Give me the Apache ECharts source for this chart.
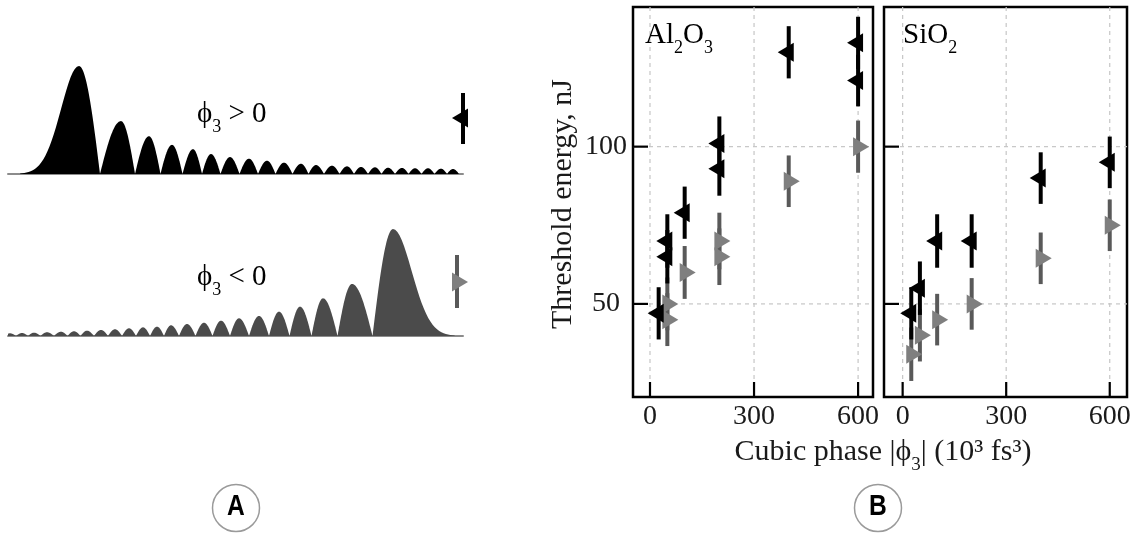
<!DOCTYPE html>
<html><head><meta charset="utf-8">
<script src="https://cdn.jsdelivr.net/npm/echarts@6/dist/echarts.min.js"></script>
<style>html,body{margin:0;padding:0;background:#fff}#c{width:1136px;height:533px}</style>
</head><body><div id="c"></div>
<script>
// ---------- Panel A: pulse lobes (time in arbitrary units, main peak at 0; relative intensity) ----------
const posLobeT = [0, 42, 70, 93, 114, 132, 151, 170, 188, 205, 222, 237, 253, 268, 282, 296, 309, 323, 336, 349, 362, 374];
const posLobeA = [1, 0.49, 0.35, 0.27, 0.23, 0.185, 0.157, 0.142, 0.123, 0.105, 0.095, 0.083, 0.077, 0.071, 0.065, 0.062, 0.058, 0.056, 0.053, 0.053, 0.049, 0.046];
const posTailHW = 21;
const negLobeT = [0, -41, -70, -93, -114, -134, -154, -172, -189, -206, -222, -236, -250, -264, -278, -292, -306, -319, -332, -346, -359, -371, -383];
const negLobeA = [1, 0.486, 0.352, 0.274, 0.227, 0.187, 0.165, 0.143, 0.124, 0.112, 0.1, 0.087, 0.081, 0.072, 0.063, 0.056, 0.05, 0.044, 0.04, 0.035, 0.031, 0.028, 0.025];
const negTailHW = 22;

// ---------- Panel B: threshold energies ----------
const xTicks = [0, 300, 600];
const yTicks = [50, 100];
const alBlackX = [25, 50, 50, 100, 200, 200, 400, 600, 600];
const alBlackY = [47, 70, 65, 79, 101, 93, 130, 133, 121];
const alBlackErr = [8.3, 8.5, 8.5, 8.3, 8.6, 8.6, 8.3, 8.3, 8.2];
const alGreyX = [50, 50, 100, 200, 200, 400, 600];
const alGreyY = [50, 45, 60, 70, 65, 89, 100];
const alGreyErr = [8.4, 8.4, 8.4, 9, 9, 8.2, 8.3];
const siBlackX = [25, 50, 100, 200, 400, 600];
const siBlackY = [47, 55, 70, 70, 90, 95];
const siBlackErr = [8.3, 8.5, 8.5, 8.5, 8.2, 8.2];
const siGreyX = [25, 50, 100, 200, 400, 600];
const siGreyY = [34, 40, 45, 50, 64.5, 75];
const siGreyErr = [8.5, 8.3, 8.2, 8.2, 8.2, 8.2];

const serif = "'Liberation Serif','Times New Roman',serif";
const zip3 = (x, y, e) => x.map((v, i) => [v, y[i], e[i]]);
const zip2 = (x, y) => x.map((v, i) => [v, y[i]]);

function lobePoints(T, A, tailHW, tailDir, i) {
  const n = T.length, p = T[i], a = A[i], N = 28, pts = [];
  if (i === 0) {
    const inner = (T[0] + T[1]) / 2;
    const sig = tailHW / 1.1774, tailEnd = p + tailDir * 3.3 * sig;
    for (let k = 0; k <= N; k++) { const t = tailEnd + (p - tailEnd) * k / N; const d = (t - p) / sig; pts.push([t, a * Math.exp(-0.5 * d * d)]); }
    for (let k = 1; k <= N; k++) { const t = p + (inner - p) * k / N; pts.push([t, a * Math.cos(Math.PI / 2 * k / N)]); }
  } else {
    const inner = (T[i] + T[i - 1]) / 2;
    const outer = i + 1 < n ? (T[i] + T[i + 1]) / 2 : T[i] + (T[i] - T[i - 1]) / 2;
    for (let k = 0; k <= N; k++) { const t = inner + (p - inner) * k / N; pts.push([t, a * Math.sin(Math.PI / 2 * k / N)]); }
    for (let k = 1; k <= N; k++) { const t = p + (outer - p) * k / N; pts.push([t, a * Math.cos(Math.PI / 2 * k / N)]); }
  }
  pts.unshift([pts[0][0], 0]);
  pts.push([pts[pts.length - 1][0], 0]);
  return pts;
}
function pulseRender(T, A, tailHW, tailDir, color) {
  return function (params, api) {
    const cs = params.coordSys;
    const pts = lobePoints(T, A, tailHW, tailDir, params.dataIndex).map(q => {
      const c = api.coord(q);
      c[0] = Math.max(cs.x, Math.min(cs.x + cs.width, c[0]));
      return c;
    });
    return { type: 'polygon', shape: { points: pts }, style: { fill: color } };
  };
}
function errRender(color) {
  return function (params, api) {
    const x = api.value(0), y = api.value(1), e = api.value(2);
    const p1 = api.coord([x, y + e]), p2 = api.coord([x, y - e]);
    return { type: 'line', shape: { x1: p1[0], y1: p1[1], x2: p2[0], y2: p2[1] }, style: { stroke: color, lineWidth: 4 } };
  };
}
const DASH = { stroke: '#c6c6c6', lineWidth: 1.2, lineDash: [4, 4] };
const TICK = { stroke: '#000', lineWidth: 2.2 };
function vGrid(params, api) {
  const cs = params.coordSys; const x = api.coord([api.value(0), 100])[0];
  return { type: 'group', children: [
    { type: 'line', shape: { x1: x, y1: cs.y, x2: x, y2: cs.y + cs.height }, style: DASH },
    { type: 'line', z2: 5, shape: { x1: x, y1: cs.y + cs.height - 15, x2: x, y2: cs.y + cs.height }, style: TICK }
  ] };
}
function hGrid(params, api) {
  const cs = params.coordSys; const y = api.coord([0, api.value(0)])[1];
  return { type: 'group', children: [
    { type: 'line', shape: { x1: cs.x, y1: y, x2: cs.x + cs.width, y2: y }, style: DASH },
    { type: 'line', z2: 5, shape: { x1: cs.x, y1: y, x2: cs.x + 15, y2: y }, style: TICK }
  ] };
}

const triL = 'path://M16,0 L0,9.5 L16,19 Z';
const triR = 'path://M0,0 L16,9.5 L0,19 Z';
const GREY_TRI = '#7f7f7f', GREY_BAR = '#595959';

function hiddenAxis(gi, min, max, showLine) {
  return { gridIndex: gi, type: 'value', min: min, max: max,
    axisLine: { show: !!showLine, onZero: false, lineStyle: { color: '#8c8c8c', width: 2 } },
    axisTick: { show: false }, axisLabel: { show: false }, splitLine: { show: false } };
}
function bXAxis(gi, min, max) {
  return { gridIndex: gi, type: 'value', min: min, max: max, position: 'bottom',
    axisLine: { show: false, onZero: false }, splitLine: { show: false }, axisTick: { show: false },
    axisLabel: { show: true, customValues: xTicks, margin: 6, fontSize: 28, fontFamily: serif, color: '#1a1a1a' } };
}
function bYAxis(gi, showLabel) {
  return { gridIndex: gi, type: 'value', min: 20.4, max: 144.4, position: 'left',
    axisLine: { show: false, onZero: false }, splitLine: { show: false }, axisTick: { show: false },
    axisLabel: { show: showLabel, customValues: yTicks, margin: 27, align: 'center', fontSize: 28, fontFamily: serif, color: '#1a1a1a' } };
}
function bSeries(gi, gX, gY, gE, kX, kY, kE) {
  return [
    { type: 'custom', xAxisIndex: gi, yAxisIndex: gi, renderItem: vGrid, data: xTicks.map(v => [v]), z: 1, silent: true },
    { type: 'custom', xAxisIndex: gi, yAxisIndex: gi, renderItem: hGrid, data: yTicks.map(v => [v]), z: 1, silent: true },
    { type: 'custom', xAxisIndex: gi, yAxisIndex: gi, renderItem: errRender(GREY_BAR), data: zip3(gX, gY, gE), z: 3, silent: true },
    { type: 'scatter', xAxisIndex: gi, yAxisIndex: gi, data: zip2(gX, gY), symbol: triR, symbolSize: [16, 19], symbolOffset: [3, 0], itemStyle: { color: GREY_TRI, opacity: 1 }, z: 4, silent: true },
    { type: 'custom', xAxisIndex: gi, yAxisIndex: gi, renderItem: errRender('#000'), data: zip3(kX, kY, kE), z: 5, silent: true },
    { type: 'scatter', xAxisIndex: gi, yAxisIndex: gi, data: zip2(kX, kY), symbol: triL, symbolSize: [16, 19], symbolOffset: [-3, 0], itemStyle: { color: '#000', opacity: 1 }, z: 6, silent: true }
  ];
}

const m = { fontSize: 29, fontFamily: serif, fill: '#000' };
const sub = { fontSize: 18, fontFamily: serif, fill: '#000', padding: [27, 0, 0, 0] };
const richT = { m: m, s: sub };
const mT = { fontSize: 30, fontFamily: serif, fill: '#1a1a1a' };
const subT = { fontSize: 19, fontFamily: serif, fill: '#1a1a1a', padding: [27, 0, 0, 0] };
const richTitle = { m: mT, s: subT };
const letterFont = "'Liberation Sans Narrow','Liberation Sans',Arial,sans-serif";

const chart = echarts.init(document.getElementById('c'));
chart.setOption({
  backgroundColor: '#fff',
  animation: false,
  grid: [
    { left: 8, top: 66, width: 455, height: 108 },
    { left: 8, top: 229, width: 455, height: 107 },
    { left: 633, top: 7, width: 240, height: 390, show: true, borderColor: '#000', borderWidth: 2.5, backgroundColor: 'transparent' },
    { left: 884, top: 7, width: 243, height: 390, show: true, borderColor: '#000', borderWidth: 2.5, backgroundColor: 'transparent' }
  ],
  xAxis: [hiddenAxis(0, -71, 384, true), hiddenAxis(1, -385, 70, true), bXAxis(2, -49, 643), bXAxis(3, -54, 650)],
  yAxis: [hiddenAxis(0, 0, 1, false), hiddenAxis(1, 0, 1, false), bYAxis(2, true), bYAxis(3, false)],
  series: [
    { type: 'custom', xAxisIndex: 0, yAxisIndex: 0, renderItem: pulseRender(posLobeT, posLobeA, posTailHW, -1, '#000'), data: zip2(posLobeT, posLobeA), silent: true },
    { type: 'custom', xAxisIndex: 1, yAxisIndex: 1, renderItem: pulseRender(negLobeT, negLobeA, negTailHW, 1, '#4b4b4b'), data: zip2(negLobeT, negLobeA), silent: true }
  ].concat(bSeries(2, alGreyX, alGreyY, alGreyErr, alBlackX, alBlackY, alBlackErr))
   .concat(bSeries(3, siGreyX, siGreyY, siGreyErr, siBlackX, siBlackY, siBlackErr)),
  graphic: { elements: [
    // panel A labels
    { type: 'text', x: 197, y: 114, z: 10, style: { text: '{m|ϕ}{s|3}{m| > 0}', rich: richT, verticalAlign: 'middle', align: 'left' } },
    { type: 'text', x: 197, y: 277, z: 10, style: { text: '{m|ϕ}{s|3}{m| < 0}', rich: richT, verticalAlign: 'middle', align: 'left' } },
    // panel A legend markers
    { type: 'line', z: 10, shape: { x1: 463, y1: 93, x2: 463, y2: 144 }, style: { stroke: '#000', lineWidth: 4 } },
    { type: 'polygon', z: 11, shape: { points: [[452, 118], [468, 108.5], [468, 127.5]] }, style: { fill: '#000' } },
    { type: 'line', z: 10, shape: { x1: 457, y1: 255, x2: 457, y2: 308 }, style: { stroke: GREY_BAR, lineWidth: 4 } },
    { type: 'polygon', z: 11, shape: { points: [[452, 272.5], [468, 282], [452, 291.5]] }, style: { fill: GREY_TRI } },
    // panel B labels
    { type: 'text', x: 645, y: 35, z: 10, style: { text: '{m|Al}{s|2}{m|O}{s|3}', rich: richT, verticalAlign: 'middle', align: 'left' } },
    { type: 'text', x: 903, y: 35, z: 10, style: { text: '{m|SiO}{s|2}', rich: richT, verticalAlign: 'middle', align: 'left' } },
    { type: 'text', x: 563, y: 204, rotation: Math.PI / 2, z: 10, style: { text: 'Threshold energy, nJ', fontSize: 30, fontFamily: serif, fill: '#1a1a1a', align: 'center', verticalAlign: 'middle' } },
    { type: 'text', x: 883, y: 452, z: 10, style: { text: '{m|Cubic phase |ϕ}{s|3}{m|| (10³ fs³)}', rich: richTitle, align: 'center', verticalAlign: 'middle' } },
    // circled panel letters
    { type: 'circle', z: 10, shape: { cx: 236, cy: 508, r: 23.5 }, style: { fill: 'none', stroke: '#9a9a9a', lineWidth: 1.5 } },
    { type: 'text', x: 236, y: 507, scaleX: 0.82, z: 10, style: { text: 'A', fontSize: 30, fontWeight: 'bold', fontFamily: letterFont, fill: '#000', align: 'center', verticalAlign: 'middle' } },
    { type: 'circle', z: 10, shape: { cx: 878, cy: 508, r: 23.5 }, style: { fill: 'none', stroke: '#9a9a9a', lineWidth: 1.5 } },
    { type: 'text', x: 878, y: 507, scaleX: 0.82, z: 10, style: { text: 'B', fontSize: 30, fontWeight: 'bold', fontFamily: letterFont, fill: '#000', align: 'center', verticalAlign: 'middle' } }
  ] }
});
</script>
</body></html>
